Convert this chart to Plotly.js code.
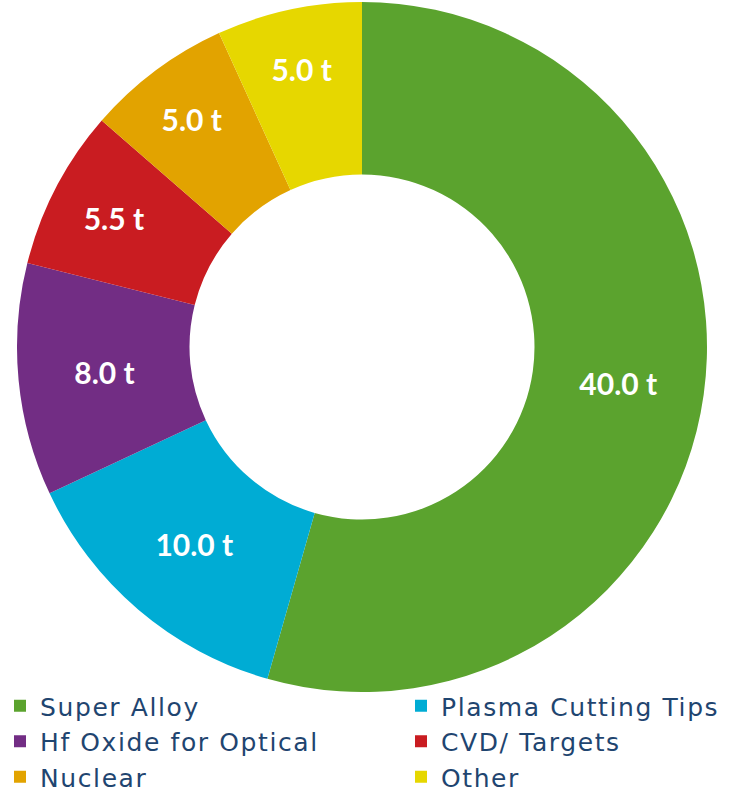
<!DOCTYPE html>
<html><head><meta charset="utf-8">
<script src="https://cdn.plot.ly/plotly-3.0.1.min.js"></script>
<style>
html,body{margin:0;padding:0;background:#fff;overflow:hidden;width:729px;height:791px;}
#chart .legendtext{letter-spacing:1.6px;}
</style>
</head><body>
<div id="chart" style="width:820px;height:791px;"></div>
<script>
const categories = ["Super Alloy", "Plasma Cutting Tips", "Hf Oxide for Optical", "CVD/ Targets", "Nuclear", "Other"];
const values = [40.0, 10.0, 8.0, 5.5, 5.0, 5.0];
const colors = ["#5BA32E", "#00ACD4", "#722D84", "#C91C21", "#E2A300", "#E6D700"];

const trace = {
  type: "pie",
  labels: categories,
  values: values,
  sort: false,
  direction: "clockwise",
  rotation: 0,
  hole: 0.5,
  marker: {colors: colors, line: {width: 0}},
  texttemplate: "%{value:.1f} t",
  textposition: "inside",
  insidetextorientation: "horizontal",
  textfont: {family: "Lato, 'DejaVu Sans', sans-serif", size: 30, color: "#ffffff", weight: "bold"},
  domain: {x: [17/820, 707/820], y: [1 - 692/791, 1 - 2/791]},
  hoverinfo: "none"
};

const layout = {
  width: 820, height: 791,
  margin: {l: 0, r: 0, t: 0, b: 0, autoexpand: false},
  paper_bgcolor: "#ffffff",
  showlegend: true,
  legend: {
    orientation: "h",
    x: 0, xanchor: "left",
    y: 1 - 683/791, yanchor: "top",
    entrywidth: 356,
    bgcolor: "rgba(0,0,0,0)",
    traceorder: "normal",
    font: {family: "'DejaVu Sans', sans-serif", size: 25, color: "#1F4570"},
    itemsizing: "constant"
  }
};

Plotly.newPlot("chart", [trace], layout, {displayModeBar: false, staticPlot: true});
</script>
</body></html>
